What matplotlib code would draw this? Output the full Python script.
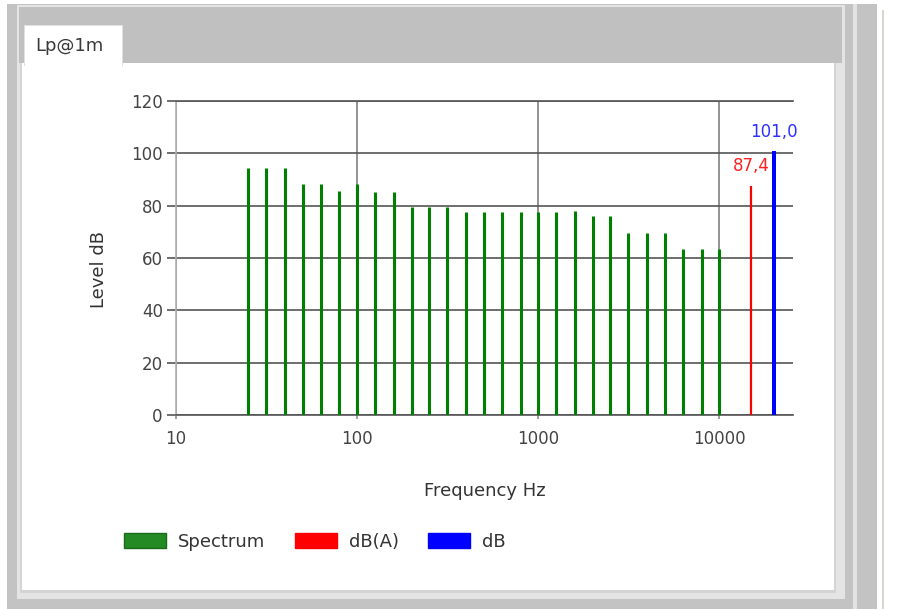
import matplotlib
matplotlib.use("Agg")
import matplotlib.pyplot as plt
from matplotlib.patches import Rectangle, Patch
from matplotlib.ticker import FixedLocator, NullLocator

# 1/3 octave spectrum, Lp@1m
freqs = [25, 31.5, 40, 50, 63, 80, 100, 125, 160, 200, 250, 315, 400, 500,
         630, 800, 1000, 1250, 1600, 2000, 2500, 3150, 4000, 5000, 6300, 8000, 10000]
levels = [94.4, 94.4, 94.4, 88.4, 88.4, 85.6, 88.4, 85.4, 85.4, 79.5, 79.5, 79.5, 77.6, 77.6,
          77.6, 77.6, 77.6, 77.6, 78.1, 75.9, 75.9, 69.7, 69.7, 69.7, 63.3, 63.3, 63.3]

# overall values
dba_freq, dba_level = 15000, 87.4
db_freq, db_level = 20000, 101.0

xticks = [10, 100, 1000, 10000]
xtick_labels = ["10", "100", "1000", "10000"]
yticks = [0, 20, 40, 60, 80, 100, 120]

W, H = 902, 609
plt.rcParams['font.family'] = 'DejaVu Sans'
fig = plt.figure(figsize=(W / 100, H / 100), dpi=100)
fig.patch.set_facecolor('white')


def box(x0, y0, x1, y1, fc, ec='none', lw=0, z=-10):
    # pixel box, origin top-left
    fig.patches.append(Rectangle((x0 / W, 1 - y1 / H), (x1 - x0) / W, (y1 - y0) / H,
                                 transform=fig.transFigure, fc=fc, ec=ec, lw=lw, zorder=z))


# window frame
box(7, 4, 877, 609, '#c3c3c3', z=-20)
box(17, 5, 845, 599, '#e4e4e4', z=-19)
box(19, 7, 842, 63, '#c0c0c0', z=-18)
box(20, 63, 836, 593, '#d4d4d4', z=-18)
box(22, 63, 834, 590, 'white', z=-17)
box(24, 25, 123, 66, '#e0e0e0', z=-16)
box(25, 26, 122, 66, 'white', z=-15)
box(853, 4, 857, 609, '#e2e2e2', z=-19)
box(882, 10, 884, 609, '#d8d8d0', z=-19)
fig.text(35 / W, 1 - 46 / H, "Lp@1m", fontsize=13, color='#3a3a3a', va='center', ha='left')

ax = fig.add_axes([176 / W, 1 - 415 / H, (793 - 176) / W, (415 - 101) / H])
ax.set_zorder(5)
ax.set_facecolor('none')
ax.set_xscale('log')
ax.set_xlim(10, 25600)
ax.set_ylim(0, 120)
ax.set_axisbelow(True)

ax.vlines(freqs, 0, levels, color='#008000', lw=2.2, zorder=3)
ax.vlines([dba_freq], 0, [dba_level], color='#ff0000', lw=1.6, zorder=3)
ax.vlines([db_freq], 0, [db_level], color='#0000ff', lw=2.9, zorder=3)

ax.annotate(f"{dba_level:.1f}".replace('.', ','), xy=(dba_freq, dba_level), xytext=(0, 11),
            textcoords='offset points', ha='center', va='baseline', fontsize=12, color='#ff2020')
ax.annotate(f"{db_level:.1f}".replace('.', ','), xy=(db_freq, db_level), xytext=(0, 10),
            textcoords='offset points', ha='center', va='baseline', fontsize=12, color='#3030ff')

ax.xaxis.set_major_locator(FixedLocator(xticks))
ax.xaxis.set_minor_locator(NullLocator())
ax.set_xticklabels(xtick_labels)
ax.set_yticks(yticks)

ax.grid(axis='y', color='#555555', lw=1.2)
ax.grid(axis='x', color='#808080', lw=1.2)
for s in ['right']:
    ax.spines[s].set_visible(False)
ax.spines['top'].set_color('#555555')
ax.spines['top'].set_linewidth(1.2)
ax.spines['bottom'].set_color('#555555')
ax.spines['bottom'].set_linewidth(1.2)
ax.spines['left'].set_color('#b0b0b0')
ax.spines['left'].set_linewidth(1.2)

ax.tick_params(axis='y', length=6.5, width=1.2, color='#555555', labelsize=12,
               labelcolor='#444444', pad=3)
ax.tick_params(axis='x', length=3, width=1.2, color='#909090', labelsize=12,
               labelcolor='#444444', pad=8)

ax.set_xlabel("Frequency Hz", fontsize=13, color='#333333')
ax.set_ylabel("Level dB", fontsize=13, color='#333333')
ax.xaxis.set_label_coords(0.5, (415 - 482) / 314)
ax.yaxis.set_label_coords((108 - 176) / 617, (415 - 270) / 314)

handles = [Patch(fc='#248a24', ec='#1a6a1a'), Patch(fc='#ff0000', ec='#ff0000'),
           Patch(fc='#0000ff', ec='#0000ff')]
fig.legend(handles, ["Spectrum", "dB(A)", "dB"], loc='center left',
           bbox_to_anchor=(124 / W, 1 - 542 / H), ncol=3, frameon=False, fontsize=13,
           handlelength=42 / 18, handleheight=16 / 18, handletextpad=12 / 18,
           columnspacing=29 / 18, borderpad=0, borderaxespad=0, labelcolor='#333333')

fig.savefig("out.png", dpi=100)
